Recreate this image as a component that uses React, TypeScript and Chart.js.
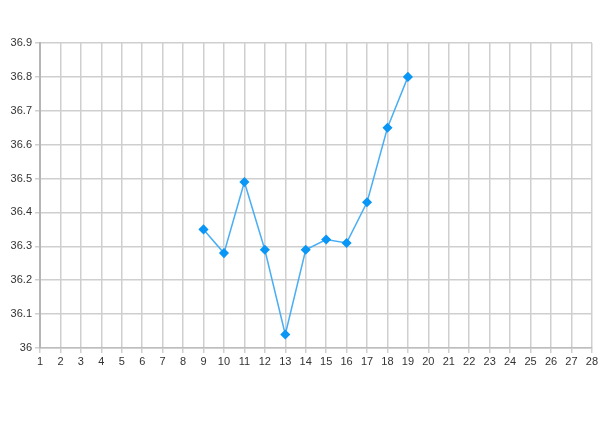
import React, { useEffect, useRef } from "react";
import { Chart, registerables } from "chart.js";

Chart.register(...registerables);

const days = [9, 10, 11, 12, 13, 14, 15, 16, 17, 18, 19];
const temps = [36.35, 36.28, 36.49, 36.29, 36.04, 36.29, 36.32, 36.31, 36.43, 36.65, 36.8];
const xMin = 1;
const xMax = 28;
const yMin = 36;
const yMax = 36.9;

export default function App() {
  const ref = useRef<HTMLCanvasElement>(null);
  useEffect(() => {
    if (!ref.current) return;
    const chart = new Chart(ref.current, {
      type: "line",
      data: {
        datasets: [
          {
            data: days.map((d, i) => ({ x: d, y: temps[i] })),
            borderColor: "#4aaef5",
            borderWidth: 1.5,
            backgroundColor: "#0a96f5",
            pointBackgroundColor: "#0a96f5",
            pointBorderColor: "#0a96f5",
            pointStyle: "rectRot",
            pointRadius: 4,
            tension: 0,
          },
        ],
      },
      options: {
        animation: false,
        responsive: false,
        maintainAspectRatio: false,
        layout: { padding: { top: 43, right: 8, bottom: 56, left: 0 } },
        plugins: { legend: { display: false }, tooltip: { enabled: false } },
        scales: {
          x: {
            type: "linear",
            min: xMin,
            max: xMax,
            ticks: {
              stepSize: 1,
              color: "#333",
              font: { family: "Liberation Sans, Arial", size: 11 },
              padding: 2,
              maxRotation: 0,
              autoSkip: false,
            },
            grid: { color: "#cfcfcf", lineWidth: 1.5, tickLength: 5 },
            border: { color: "#bdbdbd", width: 1.5 },
            afterFit: (s: any) => {
              s.height = 20;
            },
          },
          y: {
            type: "linear",
            min: yMin,
            max: yMax,
            ticks: {
              stepSize: 0.1,
              color: "#333",
              font: { family: "Liberation Sans, Arial", size: 11 },
              padding: 3,
              callback: (v: any) => String(Math.round(Number(v) * 10) / 10),
            },
            grid: { color: "#cfcfcf", lineWidth: 1.5, tickLength: 5 },
            border: { color: "#b5b5b5", width: 2 },
            afterFit: (s: any) => {
              s.width = 40;
            },
          },
        },
      },
    });
    return () => chart.destroy();
  }, []);
  return (
    <div style={{ position: "absolute", left: 0, top: 0, width: 600, height: 424, background: "#fff" }}>
      <canvas ref={ref} width={600} height={424} style={{ width: 600, height: 424 }} />
    </div>
  );
}
